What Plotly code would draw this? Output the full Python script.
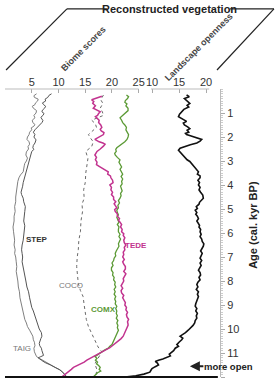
import plotly.graph_objects as go

# ---------------- data ----------------
taig_age = [0.2,0.28,0.35,0.42,0.5,0.58,0.65,0.72,0.8,0.9,1.0,1.1,1.2,1.3,1.4,1.48,1.55,1.62,1.7,1.8,1.9,2.0,2.1,2.2,2.3,2.4,2.5,2.62,2.75,2.88,3.0,3.1,3.2,3.32,3.45,3.58,3.7,3.85,4.0,4.15,4.3,4.5,4.7,4.9,5.1,5.3,5.5,5.75,5.95,6.15,6.3,6.5,6.7,6.85,7.0,7.2,7.4,7.6,7.8,8.0,8.25,8.45,8.7,8.9,9.1,9.25,9.4,9.5,9.6,9.75,9.9,10.05,10.2,10.3,10.45,10.55,10.7,10.8,10.95,11.05,11.15,11.22,11.3,11.4,11.5,11.6,11.7,11.78,11.85,11.92,12.0]
taig_val = [5.9,5.4,5.5,6.2,6.1,5.7,5.6,5.1,5.3,5.9,5.8,5.4,5.6,5.1,5.2,5.6,5.4,4.9,5.0,4.6,4.5,4.2,4.1,4.5,4.6,4.3,4.4,4.0,3.9,4.2,4.0,3.7,3.6,3.5,3.4,2.9,2.6,2.4,2.3,2.2,2.1,2.0,2.0,1.8,1.9,1.7,1.7,1.5,1.6,1.7,1.8,1.7,1.9,1.8,2.0,2.1,2.2,2.1,2.3,2.4,2.5,2.7,2.8,3.0,3.1,3.3,3.4,3.6,3.7,4.0,4.2,4.6,5.0,5.2,5.3,5.5,5.6,5.4,5.5,5.7,5.9,6.4,7.0,7.8,8.5,9.4,10.3,10.7,11.0,11.3,11.5]

step_age = [0.2,0.27,0.35,0.42,0.5,0.58,0.65,0.72,0.8,0.88,0.95,1.02,1.1,1.18,1.25,1.32,1.4,1.5,1.6,1.7,1.8,1.9,2.0,2.12,2.25,2.35,2.45,2.52,2.6,2.75,2.9,3.02,3.15,3.28,3.4,3.5,3.6,3.75,3.9,4.05,4.2,4.3,4.4,4.55,4.7,4.9,5.1,5.3,5.5,5.7,5.95,6.1,6.3,6.5,6.7,6.85,7.0,7.2,7.4,7.6,7.8,8.0,8.25,8.45,8.7,8.9,9.1,9.25,9.4,9.5,9.6,9.8,10.0,10.15,10.3,10.4,10.5,10.6,10.7,10.8,10.9,11.0,11.1,11.15,11.2,11.3,11.4,11.5,11.6,11.7,11.8,11.9,12.0]
step_val = [8.7,8.2,8.0,7.5,7.6,7.0,7.2,7.6,7.4,7.0,6.9,7.3,7.1,6.7,6.9,7.1,6.9,6.4,6.0,5.6,5.3,5.6,5.4,5.8,5.6,5.3,5.2,5.4,5.0,4.8,4.7,4.5,4.4,4.1,4.0,3.8,3.7,3.5,3.4,3.3,3.2,3.0,3.1,3.4,3.5,3.8,3.7,3.6,3.5,3.7,3.6,3.4,3.4,3.2,3.1,3.2,3.3,3.2,3.4,3.6,3.8,3.9,4.1,4.4,4.6,4.8,5.0,5.3,5.5,5.7,5.9,6.1,6.4,6.8,6.9,6.7,6.5,6.4,6.5,6.8,6.9,7.1,7.2,6.7,6.2,6.8,7.5,8.5,9.5,10.2,10.8,11.2,11.5]

coco_age = [0.25,0.45,0.6,0.8,0.95,1.1,1.3,1.45,1.6,1.75,1.9,2.05,2.2,2.4,2.6,2.9,3.15,3.5,3.9,4.2,4.55,4.8,5.1,5.5,5.95,6.3,6.7,7.0,7.4,7.8,8.1,8.4,8.65,9.0,9.35,9.6,9.9,10.1,10.3,10.55,10.75,10.95,11.2,11.45,11.7,12.0]
coco_val = [18.4,17.9,18.3,17.8,18.2,18.4,16.2,16.9,17.1,16.4,15.6,16.0,16.5,16.2,15.1,15.5,15.3,15.1,15.0,14.7,14.8,14.4,14.5,14.2,14.1,13.8,13.7,13.5,13.4,13.5,13.7,14.1,14.6,14.8,15.0,15.2,15.6,16.0,16.5,16.9,17.4,18.1,17.5,16.8,17.2,16.9]

tede_age = [0.3,0.37,0.45,0.52,0.6,0.7,0.8,0.88,0.95,1.02,1.1,1.15,1.2,1.3,1.4,1.5,1.6,1.68,1.75,1.82,1.9,1.95,2.0,2.05,2.1,2.15,2.2,2.25,2.3,2.38,2.45,2.5,2.6,2.68,2.75,2.85,2.95,3.05,3.15,3.22,3.3,3.38,3.45,3.55,3.62,3.7,3.8,3.9,3.95,4.0,4.1,4.2,4.3,4.4,4.5,4.6,4.7,4.78,4.85,4.95,5.02,5.1,5.2,5.3,5.4,5.47,5.55,5.65,5.75,5.85,5.95,6.03,6.1,6.2,6.3,6.4,6.5,6.6,6.7,6.8,6.9,7.0,7.1,7.2,7.3,7.4,7.5,7.6,7.7,7.8,7.9,8.0,8.1,8.2,8.3,8.4,8.5,8.6,8.7,8.8,8.9,9.0,9.1,9.2,9.3,9.4,9.5,9.6,9.7,9.8,9.85,9.95,10.05,10.15,10.25,10.3,10.4,10.5,10.6,10.7,10.78,10.85,10.92,11.0,11.08,11.15,11.22,11.3,11.38,11.45,11.52,11.6,11.68,11.75,11.8,11.85,11.92,12.0]
tede_val = [18.1,17.2,16.2,16.6,16.4,16.9,16.5,17.2,17.8,17.5,17.3,16.9,17.1,17.6,17.5,17.9,18.1,17.8,18.0,18.5,18.4,18.0,17.5,17.0,16.8,17.2,17.6,18.3,18.7,18.4,17.9,17.8,17.2,16.9,16.8,17.1,16.9,17.2,17.1,17.6,18.2,18.9,19.3,19.2,19.7,19.8,20.1,20.2,19.8,19.6,19.9,19.8,20.1,19.9,20.3,20.3,20.7,20.4,20.6,20.9,20.5,20.6,21.0,21.0,21.4,21.2,21.5,21.8,21.6,21.9,21.8,22.2,22.1,22.4,22.2,22.3,22.6,22.3,22.4,22.1,22.2,22.0,22.3,22.0,22.2,22.5,22.5,22.2,22.6,22.4,22.1,22.2,22.0,21.7,22.0,21.7,21.8,22.2,22.0,22.3,22.5,22.4,22.7,22.6,22.9,22.7,22.8,23.1,22.9,23.0,23.0,22.8,22.6,22.4,22.2,22.1,21.7,21.2,20.7,20.2,19.6,19.0,18.4,17.8,17.1,16.5,15.9,15.3,14.8,14.2,13.4,12.8,12.4,12.0,11.7,11.5,11.0,10.6]

comx_age = [0.25,0.32,0.4,0.48,0.55,0.62,0.7,0.8,0.9,0.98,1.05,1.12,1.2,1.3,1.4,1.5,1.6,1.7,1.8,1.9,2.0,2.1,2.2,2.28,2.35,2.45,2.52,2.6,2.68,2.75,2.85,2.95,3.05,3.15,3.25,3.35,3.45,3.55,3.65,3.75,3.85,3.95,4.05,4.15,4.25,4.35,4.45,4.55,4.65,4.75,4.85,4.95,5.05,5.15,5.25,5.35,5.45,5.55,5.65,5.75,5.85,5.95,6.05,6.15,6.25,6.35,6.45,6.55,6.65,6.75,6.85,6.95,7.05,7.15,7.25,7.35,7.45,7.55,7.65,7.75,7.85,7.95,8.05,8.15,8.25,8.35,8.45,8.55,8.65,8.75,8.85,8.95,9.05,9.15,9.25,9.35,9.45,9.55,9.65,9.75,9.85,9.95,10.05,10.15,10.25,10.35,10.45,10.55,10.65,10.72,10.8,10.88,10.95,11.02,11.08,11.15,11.22,11.3,11.38,11.45,11.52,11.6,11.68,11.75,11.82,11.9,12.0]
comx_val = [22.7,23.1,22.9,22.5,22.4,22.8,22.6,23.0,23.0,22.6,22.3,21.8,21.5,21.8,22.0,22.4,22.7,22.6,22.9,23.1,23.0,22.8,22.4,21.9,21.6,20.9,20.7,20.8,20.5,20.6,21.0,21.5,21.3,21.6,21.8,21.5,21.8,22.0,21.7,22.0,21.8,21.9,21.6,21.8,21.9,21.6,21.7,21.5,21.2,21.4,21.1,21.2,20.9,21.0,21.2,20.9,21.1,21.3,21.0,21.3,21.2,21.2,21.5,21.3,21.6,21.4,21.2,21.3,21.0,20.8,20.6,20.7,20.4,20.3,20.0,20.2,19.9,19.9,20.2,20.1,20.4,20.3,20.6,20.5,20.7,20.4,20.6,20.4,20.7,20.5,20.7,20.6,20.9,20.7,20.9,20.8,21.0,20.8,21.1,20.9,21.1,21.0,21.2,21.0,20.9,20.7,20.5,20.3,20.0,19.6,19.3,18.6,18.1,17.6,17.2,16.8,17.2,16.9,17.3,17.1,17.5,17.8,17.6,17.9,17.3,16.9,16.5]

open_age = [0.25,0.32,0.4,0.5,0.6,0.68,0.75,0.85,0.95,1.05,1.15,1.25,1.35,1.42,1.5,1.58,1.65,1.72,1.8,1.85,1.9,1.95,2.0,2.05,2.1,2.17,2.25,2.32,2.4,2.47,2.55,2.65,2.75,2.85,2.95,3.02,3.1,3.2,3.3,3.38,3.45,3.55,3.62,3.7,3.8,3.9,4.0,4.1,4.2,4.3,4.42,4.55,4.65,4.72,4.8,4.9,4.98,5.05,5.15,5.22,5.3,5.4,5.5,5.6,5.68,5.75,5.85,5.95,6.05,6.15,6.25,6.35,6.45,6.55,6.65,6.75,6.85,6.95,7.05,7.15,7.25,7.35,7.45,7.55,7.65,7.75,7.85,7.95,8.05,8.15,8.25,8.35,8.45,8.55,8.65,8.8,8.95,9.05,9.15,9.25,9.35,9.45,9.55,9.65,9.75,9.85,9.95,10.05,10.15,10.25,10.3,10.38,10.45,10.55,10.65,10.72,10.8,10.9,10.98,11.05,11.12,11.2,11.25,11.3,11.35,11.42,11.5,11.57,11.65,11.72,11.8,11.88,11.95,12.0]
open_val = [16.4,16.9,16.0,16.6,17.0,16.5,16.8,15.9,15.5,15.1,14.9,15.7,16.4,15.8,16.0,16.6,17.0,16.5,16.8,16.2,16.4,17.1,17.8,18.7,19.2,18.9,18.3,17.1,16.0,15.2,14.9,15.3,15.8,16.2,16.5,17.0,17.3,17.6,17.9,18.3,18.6,18.4,18.9,18.9,18.5,18.8,18.6,18.9,18.7,19.0,19.4,19.5,19.1,18.8,18.7,18.2,18.4,18.0,18.3,18.1,18.4,18.6,18.3,18.5,18.8,18.7,19.0,18.9,19.1,18.9,19.2,19.3,19.6,19.5,19.2,19.0,19.3,19.1,18.9,19.2,18.9,19.1,18.8,18.6,18.9,19.0,18.7,18.9,18.5,18.3,18.5,18.2,18.6,18.4,18.6,18.3,18.1,18.0,18.3,18.1,18.4,18.2,18.3,18.0,17.9,17.6,17.2,16.7,16.2,15.5,15.2,15.7,15.5,15.0,14.6,14.9,14.3,14.0,13.5,13.2,13.4,12.7,12.0,11.2,10.6,11.0,11.2,10.6,10.0,9.8,9.6,8.5,7.0,5.0]

biome_ticks = [0, 5, 10, 15, 20, 25]
biome_ticktext = ["", "5", "10", "15", "20", "25"]
open_ticks = [10, 15, 20]
age_ticks = list(range(1, 13))

# ---------------- figure ----------------
FONT = "Liberation Sans, Arial, sans-serif"
fig = go.Figure()

def add(x, y, color, width=1, dash="solid", axis="x"):
    fig.add_trace(go.Scatter(x=x, y=y, mode="lines", xaxis=axis, yaxis="y",
                             line=dict(color=color, width=width, dash=dash),
                             showlegend=False, hoverinfo="skip"))

add(taig_val, taig_age, "#808080", 1)
add(step_val, step_age, "#555555", 1)
add(coco_val, coco_age, "#6a6a6a", 1, "dot")
add(comx_val, comx_age, "#5b9a35", 1.3)
add(tede_val, tede_age, "#c2338f", 1.5)
add(open_val, open_age, "#111111", 1.6, axis="x2")

fig.update_layout(
    width=275, height=380,
    margin=dict(l=5, r=55, t=89, b=3),
    paper_bgcolor="white", plot_bgcolor="white",
    font=dict(family=FONT, size=11, color="#333"),
    xaxis=dict(range=[0, 40.19], side="top", showgrid=False, zeroline=False,
               showline=False, tickvals=biome_ticks, ticktext=biome_ticktext,
               ticks="inside", ticklen=4, tickcolor="#aaa",
               tickfont=dict(size=11, color="#333")),
    xaxis2=dict(range=[-17.22, 22.59], side="top", overlaying="x", anchor="y",
                showgrid=False, zeroline=False, showline=False,
                tickvals=open_ticks, ticks="inside", ticklen=4, tickcolor="#aaa",
                tickfont=dict(size=11, color="#333")),
    yaxis=dict(range=[12, 0], side="right", showgrid=False, zeroline=False,
               showline=True, linecolor="#bbb", linewidth=1,
               tickvals=age_ticks, ticks="outside", ticklen=4, tickcolor="#aaa",
               minor=dict(dtick=0.1, ticks="outside", ticklen=2, tickcolor="#ccc"),
               tickfont=dict(size=11, color="#333")),
)

# axis lines on top
fig.add_shape(type="line", xref="x", yref="paper", x0=0, x1=25, y0=1, y1=1,
              line=dict(color="#bbb", width=1))
fig.add_shape(type="line", xref="x2", yref="paper", x0=9.8, x1=20.6, y0=1, y1=1,
              line=dict(color="#bbb", width=1))
# bottom thick line
fig.add_shape(type="line", xref="paper", yref="paper", x0=0, x1=0.99, y0=0, y1=0,
              line=dict(color="#111", width=2))

# bracket lines for header
for (x0, y0, x1, y1) in [(0.005, 1.066, 0.288, 1.278), (0.288, 1.278, 0.474, 1.278),
                         (1.047, 1.278, 1.251, 1.278), (1.251, 1.278, 0.986, 1.066)]:
    fig.add_shape(type="line", xref="paper", yref="paper", x0=x0, y0=y0, x1=x1, y1=y1,
                  line=dict(color="#222", width=1.2))

ann = [
    dict(text="<b>Reconstructed vegetation</b>", x=0.767, y=1.278, size=11, color="#222", angle=0),
    dict(text="<b>Biome scores</b>", x=0.363, y=1.139, size=9, color="#444", angle=-45),
    dict(text="<b>Landscape openness</b>", x=0.902, y=1.146, size=9, color="#444", angle=-45),
]
for a in ann:
    fig.add_annotation(text=a["text"], x=a["x"], y=a["y"], xref="paper", yref="paper",
                       showarrow=False, textangle=a["angle"],
                       font=dict(size=a["size"], color=a["color"], family=FONT),
                       xanchor="center", yanchor="middle")

# y-axis title
fig.add_annotation(text="<b>Age (cal. kyr BP)</b>", x=1.193, y=0.53, xref="paper", yref="paper",
                   showarrow=False, textangle=-90, font=dict(size=11, color="#222", family=FONT))

# series labels
labels = [
    ("<b>STEP</b>", 5.9, 6.25, "#333"),
    ("TAIG", 3.2, 10.8, "#777"),
    ("COCO", 12.3, 8.2, "#777"),
    ("<b>COMX</b>", 18.4, 9.2, "#5b9a35"),
    ("<b>TEDE</b>", 24.4, 6.5, "#c2338f"),
]
for t, x, y, c in labels:
    fig.add_annotation(text=t, x=x, y=y, xref="x", yref="y", showarrow=False,
                       font=dict(size=8, color=c, family=FONT))

# more open
fig.add_annotation(text="<b>more open</b>", x=0.918, y=11.55, xref="paper", yref="y",
                   showarrow=False, xanchor="left", yanchor="middle",
                   font=dict(size=9.5, color="#222", family=FONT))
fig.add_annotation(text="", x=0.86, y=11.55, xref="paper", yref="y",
                   showarrow=True, ax=15, ay=0, arrowhead=2, arrowsize=1, arrowwidth=2,
                   arrowcolor="#222")

fig.write_html("out.html")
